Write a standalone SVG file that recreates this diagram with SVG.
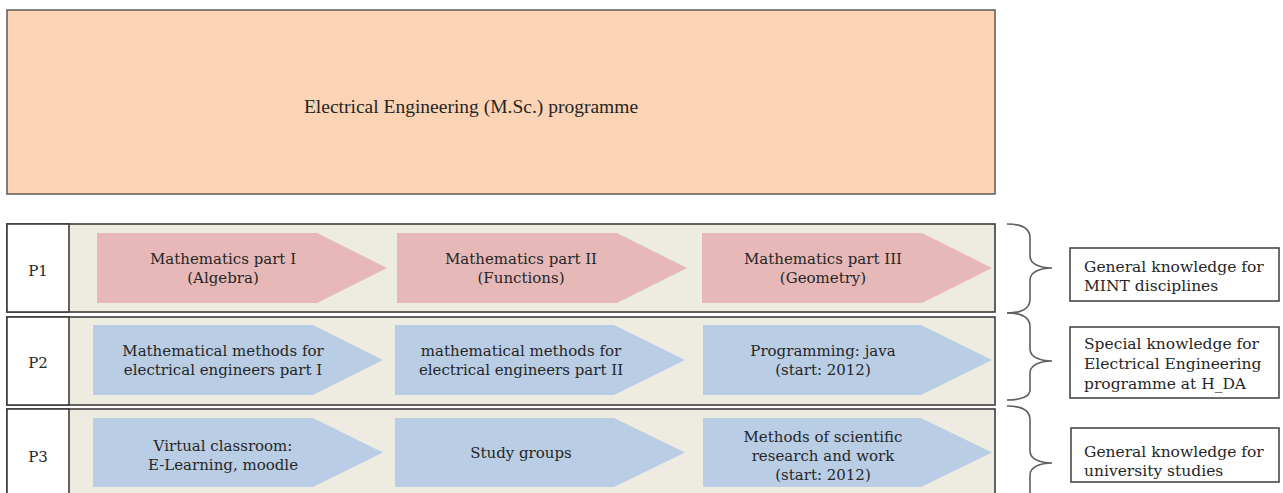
<svg xmlns="http://www.w3.org/2000/svg" width="1283" height="493" viewBox="0 0 1283 493">
<style>
.bg{fill:#ffffff}
.top{fill:#FBD4B5;stroke:#5a5a5a;stroke-width:1.5}
.row{fill:#EEECE1;stroke:#3c3c3c;stroke-width:1.6}
.lab{fill:#ffffff;stroke:#3c3c3c;stroke-width:1.6}
.pink{fill:#E6B9B8}
.blue{fill:#B9CDE5}
.note{fill:#ffffff;stroke:#3c3c3c;stroke-width:1.5}
.brace{fill:none;stroke:#5f5f5f;stroke-width:1.6}
text{font-family:"DejaVu Serif","Liberation Serif",serif;fill:#262626;font-size:15px}
.c{text-anchor:middle}
.title{font-family:"Liberation Serif","Times New Roman",serif;font-size:19.5px}
.nt{font-size:15.5px}
</style>
<rect class="bg" x="0" y="0" width="1283" height="493"/>

<g id="programme">
<rect class="top" x="7" y="10" width="988" height="184"/>
<text class="title c" x="471" y="113">Electrical Engineering (M.Sc.) programme</text>
</g>

<g id="row-p1">
<rect class="row" x="7" y="224" width="988" height="88"/>
<rect class="lab" x="7" y="224" width="62" height="88"/>
<text class="c" x="38" y="276">P1</text>
</g>
<g id="p1-math1">
<polygon class="pink" points="97,233 317,233 387,268 317,303 97,303"/>
<text class="c" x="223" y="264">Mathematics part I</text>
<text class="c" x="223" y="283">(Algebra)</text>
</g>
<g id="p1-math2">
<polygon class="pink" points="397,233 617,233 687,268 617,303 397,303"/>
<text class="c" x="521" y="264">Mathematics part II</text>
<text class="c" x="521" y="283">(Functions)</text>
</g>
<g id="p1-math3">
<polygon class="pink" points="702,233 922,233 992,268 922,303 702,303"/>
<text class="c" x="823" y="264">Mathematics part III</text>
<text class="c" x="823" y="283">(Geometry)</text>
</g>

<g id="row-p2">
<rect class="row" x="7" y="317" width="988" height="88"/>
<rect class="lab" x="7" y="317" width="62" height="88"/>
<text class="c" x="38" y="368">P2</text>
</g>
<g id="p2-methods1">
<polygon class="blue" points="93,325 313,325 383,360 313,395 93,395"/>
<text class="c" x="223" y="356">Mathematical methods for</text>
<text class="c" x="223" y="375">electrical engineers part I</text>
</g>
<g id="p2-methods2">
<polygon class="blue" points="395,325 614,325 685,360 614,395 395,395"/>
<text class="c" x="521" y="356">mathematical methods for</text>
<text class="c" x="521" y="375">electrical engineers part II</text>
</g>
<g id="p2-java">
<polygon class="blue" points="703,325 921,325 992,360 921,395 703,395"/>
<text class="c" x="823" y="356">Programming: java</text>
<text class="c" x="823" y="375">(start: 2012)</text>
</g>

<g id="row-p3">
<rect class="row" x="7" y="409" width="988" height="96"/>
<rect class="lab" x="7" y="409" width="62" height="96"/>
<text class="c" x="38" y="462">P3</text>
</g>
<g id="p3-virtual">
<polygon class="blue" points="93,418 313,418 383,452.5 313,487 93,487"/>
<text class="c" x="223" y="451">Virtual classroom:</text>
<text class="c" x="223" y="470">E-Learning, moodle</text>
</g>
<g id="p3-study">
<polygon class="blue" points="395,418 614,418 685,452.5 614,487 395,487"/>
<text class="c" x="521" y="458">Study groups</text>
</g>
<g id="p3-research">
<polygon class="blue" points="703,418 921,418 992,452.5 921,487 703,487"/>
<text class="c" x="823" y="442">Methods of scientific</text>
<text class="c" x="823" y="461">research and work</text>
<text class="c" x="823" y="480">(start: 2012)</text>
</g>

<g id="connectors">
<path class="brace" d="M1007,224 C1022,224 1030,228 1030,238 L1030,256 C1030,264 1040,268 1052,268 C1040,268 1030,272 1030,280 L1030,299 C1030,309 1022,313 1007,313"/>
<path class="brace" d="M1007,313 C1022,313 1030,317 1030,327 L1030,349 C1030,357 1040,361 1052,361 C1040,361 1030,365 1030,373 L1030,390 C1030,396 1022,400 1007,400"/>
<path class="brace" d="M1007,406 C1022,406 1030,410 1030,420 L1030,451 C1030,459 1040,463 1052,463 C1040,463 1030,467 1030,475 L1030,506 C1030,516 1022,520 1007,520"/>
</g>

<g id="note-mint">
<rect class="note" x="1070" y="248" width="209" height="53"/>
<text class="nt" x="1084" y="272">General knowledge for</text>
<text class="nt" x="1084" y="291">MINT disciplines</text>
</g>
<g id="note-special">
<rect class="note" x="1070" y="327" width="209" height="71"/>
<text class="nt" x="1084" y="349">Special knowledge for</text>
<text class="nt" x="1084" y="369">Electrical Engineering</text>
<text class="nt" x="1084" y="389">programme at H_DA</text>
</g>
<g id="note-university">
<rect class="note" x="1071" y="428" width="208" height="54"/>
<text class="nt" x="1084" y="457">General knowledge for</text>
<text class="nt" x="1084" y="476">university studies</text>
</g>
</svg>
